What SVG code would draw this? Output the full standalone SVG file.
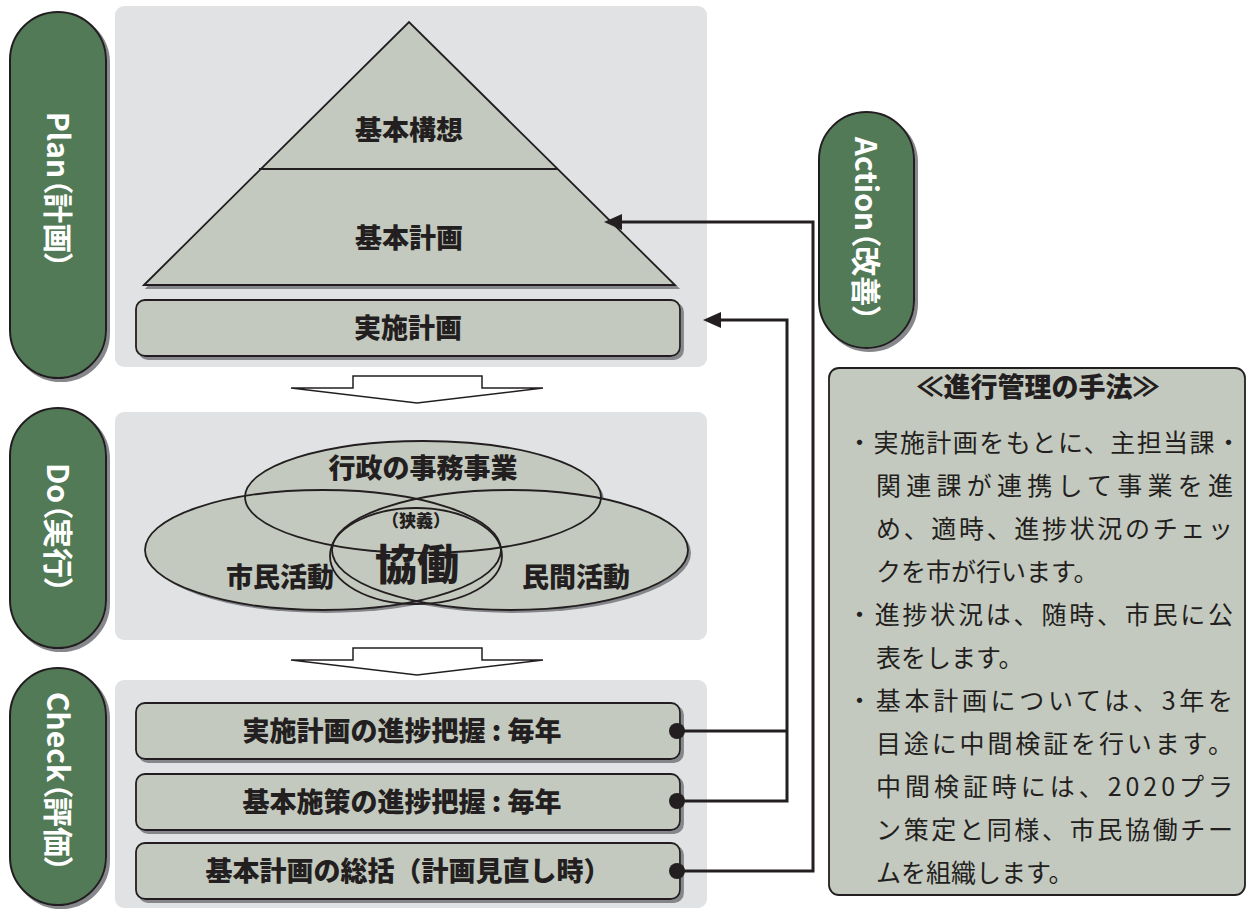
<svg xmlns="http://www.w3.org/2000/svg" width="1248" height="910" viewBox="0 0 1248 910">
<defs>
<style>
.panel{fill:#e1e2e4}
.node{fill:#c4c9bf;stroke:#231f20;stroke-width:1.8}
.pill{fill:#537a57;stroke:#231f20;stroke-width:2}
.lbl{font-family:"Noto Sans CJK JP","Noto Sans CJK SC",sans-serif;font-weight:900;font-size:27px;fill:#231f20;text-anchor:middle}
.pt{font-family:"Noto Sans CJK JP","Noto Sans CJK SC",sans-serif;font-weight:700;font-size:30px;fill:#ffffff;text-anchor:middle;font-feature-settings:"palt"}
.body{font-family:"Noto Sans CJK JP","Noto Sans CJK SC",sans-serif;font-weight:400;font-size:25px;fill:#231f20}
.darrow{fill:#ffffff;stroke:#231f20;stroke-width:1.5;stroke-linejoin:miter}
</style>
<filter id="sh" x="-5%" y="-5%" width="115%" height="120%">
<feDropShadow dx="3" dy="3" stdDeviation="0.6" flood-color="#86878b" flood-opacity="1"/>
</filter>
<marker id="ah" markerUnits="userSpaceOnUse" viewBox="0 0 18 16" markerWidth="18" markerHeight="16" refX="6" refY="8" orient="auto">
<path d="M0,0 L18,8 L0,16 Z" fill="#231f20"/>
</marker>
<marker id="dot" markerUnits="userSpaceOnUse" viewBox="-9 -9 18 18" markerWidth="18" markerHeight="18" refX="0" refY="0" orient="auto">
<circle cx="0" cy="0" r="8" fill="#231f20"/>
</marker>
</defs>

<rect width="1248" height="910" fill="#ffffff"/>

<!-- panels -->
<g id="panel-plan"><rect class="panel" x="115" y="6" width="592" height="361" rx="9"/></g>
<g id="panel-do"><rect class="panel" x="115" y="412" width="592" height="228" rx="9"/></g>
<g id="panel-check"><rect class="panel" x="115" y="680" width="592" height="228" rx="9"/></g>

<!-- PDCA pills -->
<g id="pill-plan">
<rect class="pill" x="10" y="12" width="96" height="366" rx="48" filter="url(#sh)"/>
<text class="pt" transform="translate(58,190) rotate(90)" y="11">Plan（計画）</text>
</g>
<g id="pill-do">
<rect class="pill" x="10" y="408" width="96" height="240" rx="48" filter="url(#sh)"/>
<text class="pt" transform="translate(58,528) rotate(90)" y="11">Do（実行）</text>
</g>
<g id="pill-check">
<rect class="pill" x="10" y="668" width="96" height="237" rx="48" filter="url(#sh)"/>
<text class="pt" transform="translate(58,782) rotate(90)" y="11">Check（評価）</text>
</g>
<g id="pill-action">
<rect class="pill" x="819" y="112" width="95" height="236" rx="47.5" filter="url(#sh)"/>
<text class="pt" transform="translate(866,229) rotate(90)" y="11">Action（改善）</text>
</g>

<!-- pyramid -->
<g id="pyramid">
<polygon class="node" points="144,285 409,22 675,285" filter="url(#sh)"/>
<line x1="259" y1="169" x2="558" y2="169" stroke="#231f20" stroke-width="1.8"/>
<text class="lbl" x="409" y="140">基本構想</text>
<text class="lbl" x="409" y="248">基本計画</text>
</g>

<g id="jisshi">
<rect class="node" x="136" y="300" width="544" height="56" rx="9" filter="url(#sh)"/>
<text class="lbl" x="408" y="338">実施計画</text>
</g>

<!-- down arrows -->
<g id="arrow-down-1"><polygon class="darrow" points="353,376 482,376 482,388 543,388 417,403 291,388 353,388"/></g>
<g id="arrow-down-2"><polygon class="darrow" points="353,648 482,648 482,660 543,660 417,675 291,660 353,660"/></g>

<!-- Venn -->
<g id="venn">
<g filter="url(#sh)" fill="#c4c9bf">
<ellipse cx="423" cy="497" rx="178" ry="56"/>
<ellipse cx="323" cy="550" rx="178" ry="60"/>
<ellipse cx="510" cy="550" rx="178" ry="60"/>
</g>
<g fill="none" stroke="#231f20" stroke-width="1.8">
<ellipse cx="423" cy="497" rx="178" ry="56"/>
<ellipse cx="323" cy="550" rx="178" ry="60"/>
<ellipse cx="510" cy="550" rx="178" ry="60"/>
<ellipse cx="416" cy="556" rx="86" ry="48"/>
</g>
<text class="lbl" x="423" y="478">行政の事務事業</text>
<text class="lbl" x="416" y="527" style="font-size:17px">（狭義）</text>
<text class="lbl" x="417" y="580" style="font-size:42px">協働</text>
<text class="lbl" x="280" y="587">市民活動</text>
<text class="lbl" x="576" y="587">民間活動</text>
</g>

<!-- check boxes -->
<g id="check-1">
<rect class="node" x="136" y="703" width="544" height="56" rx="9" filter="url(#sh)"/>
<text class="lbl" x="402" y="741">実施計画の進捗把握 : 毎年</text>
</g>
<g id="check-2">
<rect class="node" x="136" y="774" width="544" height="56" rx="9" filter="url(#sh)"/>
<text class="lbl" x="402" y="812">基本施策の進捗把握 : 毎年</text>
</g>
<g id="check-3">
<rect class="node" x="136" y="843" width="544" height="56" rx="9" filter="url(#sh)"/>
<text class="lbl" x="408" y="881">基本計画の総括（計画見直し時）</text>
</g>

<!-- connectors -->
<g id="connectors" fill="none" stroke="#231f20" stroke-width="3">
<path d="M677,871 H813 V222 H616" marker-start="url(#dot)" marker-end="url(#ah)"/>
<path d="M677,801 H787 V320 H715" marker-start="url(#dot)" marker-end="url(#ah)"/>
<path d="M677,731 H787" marker-start="url(#dot)"/>
</g>

<!-- method box -->
<g id="method">
<rect x="829" y="368" width="416" height="527" rx="10" fill="#c4c9bf" stroke="#231f20" stroke-width="1.8"/>
<text class="lbl" x="1038" y="397">≪進行管理の手法≫</text>
<text class="body" x="847" y="452" textLength="394">・実施計画をもとに、主担当課・</text>
<text class="body" x="876" y="495" textLength="357">関連課が連携して事業を進</text>
<text class="body" x="876" y="538" textLength="357">め、適時、進捗状況のチェッ</text>
<text class="body" x="876" y="581">クを市が行います。</text>
<text class="body" x="847" y="624" textLength="386">・進捗状況は、随時、市民に公</text>
<text class="body" x="876" y="667">表をします。</text>
<text class="body" x="847" y="710" textLength="386">・基本計画については、3年を</text>
<text class="body" x="876" y="753" textLength="357">目途に中間検証を行います。</text>
<text class="body" x="876" y="796" textLength="357">中間検証時には、2020プラ</text>
<text class="body" x="876" y="839" textLength="357">ン策定と同様、市民協働チー</text>
<text class="body" x="876" y="882">ムを組織します。</text>
</g>
</svg>
